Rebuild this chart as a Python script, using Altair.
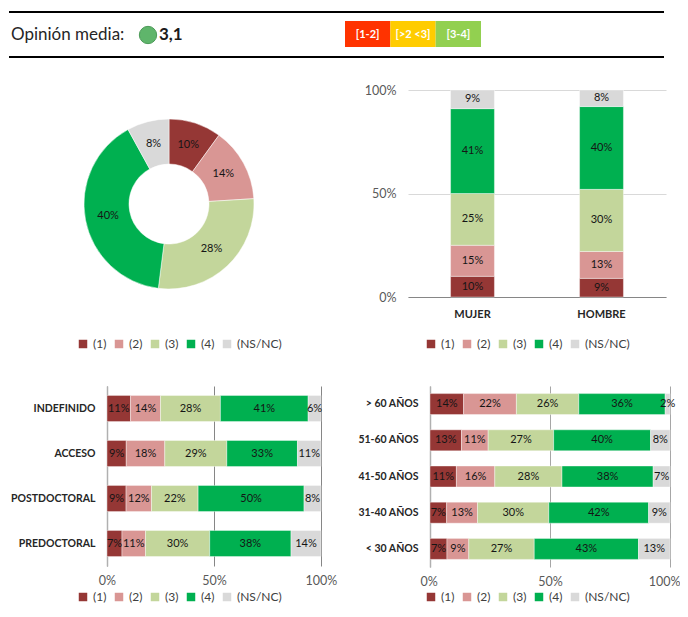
import altair as alt
import pandas as pd

FONT = "Lato"
SERIES = ["(1)", "(2)", "(3)", "(4)", "(NS/NC)"]
COLORS = ["#953735", "#D99694", "#C3D69B", "#00B050", "#D9D9D9"]

donut_values = [10, 14, 28, 40, 8]

gender_cats = ["MUJER", "HOMBRE"]
gender_1 = [10, 9]
gender_2 = [15, 13]
gender_3 = [25, 30]
gender_4 = [41, 40]
gender_5 = [9, 8]

contract_cats = ["INDEFINIDO", "ACCESO", "POSTDOCTORAL", "PREDOCTORAL"]
contract_1 = [11, 9, 9, 7]
contract_2 = [14, 18, 12, 11]
contract_3 = [28, 29, 22, 30]
contract_4 = [41, 33, 50, 38]
contract_5 = [6, 11, 8, 14]

age_cats = ["> 60 AÑOS", "51-60 AÑOS", "41-50 AÑOS", "31-40 AÑOS", "< 30 AÑOS"]
age_1 = [14, 13, 11, 7, 7]
age_2 = [22, 11, 16, 13, 9]
age_3 = [26, 27, 28, 30, 27]
age_4 = [36, 40, 38, 42, 43]
age_5 = [2, 8, 7, 9, 13]

range_labels = ["[1-2]", "[>2 <3]", "[3-4]"]
range_colors = ["#FF3300", "#FFCC00", "#92D050"]

# page-pixel origin of the first panel's plot area (header is drawn relative to it)
OX, OY = 106, 90


def table(cats, *cols):
    rows = []
    for c_i, cat in enumerate(cats):
        vals = [col[c_i] for col in cols]
        total = sum(vals)
        run = 0
        for s_i, v in enumerate(vals):
            rows.append({
                "cat": cat, "serie": SERIES[s_i], "v": v,
                "start": run / total, "end": (run + v) / total,
                "mid": (run + v / 2) / total, "label": f"{v}%",
            })
            run += v
    return pd.DataFrame(rows)


def legend(x, y):
    return alt.Legend(
        orient="none", legendX=x, legendY=y, direction="horizontal", columns=5,
        title=None, symbolType="square", symbolSize=72, symbolStrokeWidth=0,
        labelFont=FONT, labelFontSize=12, labelColor="#404040",
        columnPadding=6, labelOffset=4,
    )


def color(x, y):
    return alt.Color("serie:N", scale=alt.Scale(domain=SERIES, range=COLORS),
                     legend=legend(x, y))


def hbar(cats, cols, w, h, pad, grid, lx, ly, shift=0, flush_offset=None):
    df = table(cats, *cols)
    y = alt.Y("cat:N", sort=cats, title=None,
              scale=alt.Scale(paddingInner=pad, paddingOuter=pad / 2),
              axis=alt.Axis(labelFont=FONT, labelFontSize=10.5, labelFontWeight="bold",
                            labelColor="#262626", ticks=False, labelPadding=12,
                            domainColor="#B0B0B0", domainWidth=1.5, offset=-shift))
    flush = {"labelFlush": False} if flush_offset is None else {
        "labelFlush": True, "labelFlushOffset": flush_offset}
    x_axis = alt.Axis(values=[0, 0.5, 1], format=".0%", labelFont=FONT, labelFontSize=12.5,
                      labelColor="#595959", ticks=False, domain=False, grid=True,
                      gridColor=grid, gridWidth=1, labelPadding=8, **flush)
    x_scale = alt.Scale(domain=[0, 1], range=[shift, w])
    bars = alt.Chart(df).mark_bar(stroke="white", strokeWidth=0.4).encode(
        x=alt.X("start:Q", title=None, axis=x_axis, scale=x_scale),
        x2="end:Q", y=y, color=color(lx, ly))
    text = alt.Chart(df).mark_text(font=FONT, fontSize=11, color="#151515").encode(
        x=alt.X("mid:Q", scale=x_scale),
        y=alt.Y("cat:N", sort=cats), text="label:N")
    return alt.layer(bars, text).properties(width=w, height=h)


# header (drawn above the donut panel)
one = pd.DataFrame({"a": [0]})
ranges = pd.DataFrame({"r": range_labels, "c": range_colors})
range_x = alt.X("r:N", sort=range_labels, axis=None,
                scale=alt.Scale(range=[344 - OX, 480 - OX], paddingInner=0, paddingOuter=0))
header_layers = [
    alt.Chart(one).mark_rule(color="#FFFFFF", strokeWidth=1).encode(
        x=alt.value(8 - OX), x2=alt.value(20 - OX), y=alt.value(8.5 - OY)),
    alt.Chart(one).mark_rule(color="#000000", strokeWidth=2).encode(
        x=alt.value(8 - OX), x2=alt.value(663 - OX), y=alt.value(12 - OY)),
    alt.Chart(one).mark_rule(color="#000000", strokeWidth=2).encode(
        x=alt.value(8 - OX), x2=alt.value(663 - OX), y=alt.value(57 - OY)),
    alt.Chart(one).mark_text(text="Opinión media:", font=FONT, fontSize=17, align="left",
                             color="#262626").encode(x=alt.value(10 - OX), y=alt.value(35 - OY)),
    alt.Chart(one).mark_circle(size=300, color="#5FB56B", opacity=1, stroke="#4C9A58",
                               strokeWidth=1).encode(x=alt.value(147 - OX), y=alt.value(35 - OY)),
    alt.Chart(one).mark_text(text="3,1", font=FONT, fontSize=17, fontWeight="bold", align="left",
                             color="#1a1a1a").encode(x=alt.value(158 - OX), y=alt.value(35 - OY)),
    alt.Chart(ranges).mark_rect().encode(
        x=range_x, y=alt.value(21 - OY), y2=alt.value(47 - OY), color=alt.Color("c:N", scale=None)),
    alt.Chart(ranges).mark_text(font=FONT, fontSize=11, fontWeight="bold", color="white").encode(
        x=range_x, y=alt.value(35 - OY), text="r:N"),
]

# donut
donut_df = pd.DataFrame({"serie": SERIES, "v": donut_values, "k": range(5),
                         "label": [f"{v}%" for v in donut_values]})
theta = alt.Theta("v:Q", stack=True)
arc = alt.Chart(donut_df).mark_arc(radius=85, innerRadius=40, stroke="white", strokeWidth=0.5).encode(
    theta=theta, order=alt.Order("k:O"),
    color=alt.Color("serie:N", scale=alt.Scale(domain=SERIES, range=COLORS), legend=legend(-30, 248)),
    x=alt.value(168 - OX), y=alt.value(204 - OY))
arc_text = alt.Chart(donut_df).mark_text(radius=62, font=FONT, fontSize=11, color="#151515").encode(
    theta=theta, order=alt.Order("k:O"), text="label:N",
    x=alt.value(168 - OX), y=alt.value(204 - OY))
donut = alt.layer(arc, arc_text, *header_layers).resolve_scale(
    color="independent").properties(width=214, height=207)

# gender bars (vertical)
g_df = table(gender_cats, gender_1, gender_2, gender_3, gender_4, gender_5)
g_x = alt.X("cat:N", sort=gender_cats, title=None,
            scale=alt.Scale(paddingInner=0.66, paddingOuter=0.33),
            axis=alt.Axis(labelAngle=0, labelFont=FONT, labelFontSize=11, labelFontWeight="bold",
                          labelColor="#262626", ticks=False, labelPadding=11,
                          domainColor="#868686", domainWidth=1))
g_bars = alt.Chart(g_df).mark_bar(stroke="white", strokeWidth=0.4).encode(
    x=g_x,
    y=alt.Y("start:Q", title=None, scale=alt.Scale(domain=[0, 1]),
            axis=alt.Axis(values=[0, 0.5, 1], format=".0%", labelFont=FONT, labelFontSize=12.5,
                          labelColor="#595959", ticks=False, domain=False, grid=True, labelFlush=False,
                          gridColor="#D9D9D9", gridWidth=1, labelPadding=12)),
    y2="end:Q", color=color(17, 248))
g_text = alt.Chart(g_df).mark_text(font=FONT, fontSize=11, color="#151515").encode(
    x=alt.X("cat:N", sort=gender_cats),
    y=alt.Y("mid:Q", scale=alt.Scale(domain=[0, 1])), text="label:N")
gender = alt.layer(g_bars, g_text).properties(width=258, height=207)

contract = hbar(contract_cats, [contract_1, contract_2, contract_3, contract_4, contract_5],
                214, 180, 0.42, "#868686", -30, 205)
age = hbar(age_cats, [age_1, age_2, age_3, age_4, age_5],
           262, 181, 0.42, "#A6A6A6", 17, 205, shift=22, flush_offset=10)

chart = (
    alt.concat(donut, gender, contract, age, columns=2, bounds="flush", align="none",
               spacing=alt.RowColnumber(row=89, column=87))
    .resolve_scale(color="independent")
    .properties(padding=0)
    .configure_view(stroke=None)
)
chart.save("out.html", embed_options={"renderer": "svg", "actions": False})
